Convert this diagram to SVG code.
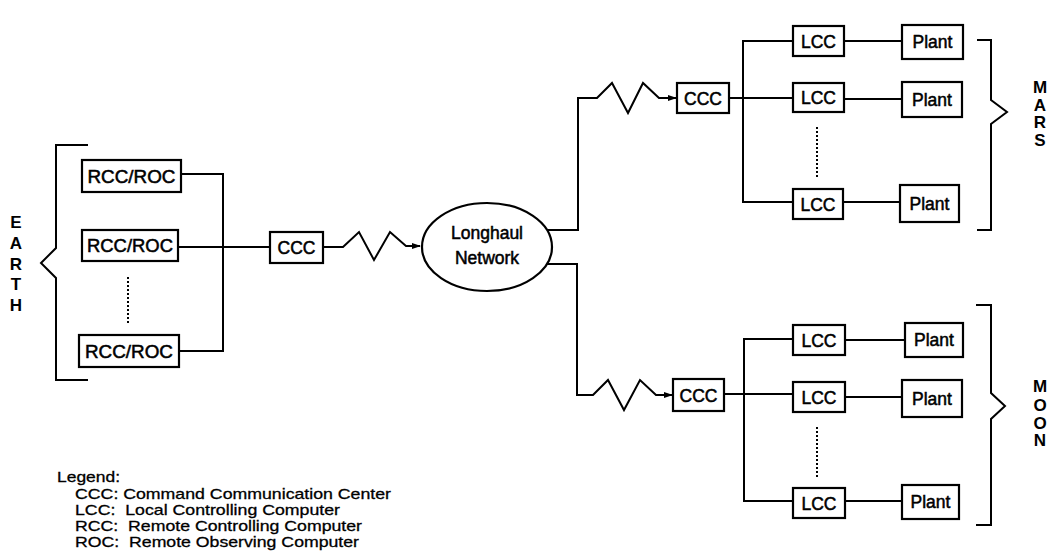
<svg xmlns="http://www.w3.org/2000/svg" width="1057" height="558" viewBox="0 0 1057 558">
<style>
.box{fill:#fff;stroke:#000;stroke-width:2.2}
.ln{fill:none;stroke:#000;stroke-width:2}
.dot{fill:none;stroke:#000;stroke-width:2;stroke-dasharray:2 2}
.lb{font-family:"Liberation Sans",Arial,sans-serif;font-size:17.5px;text-anchor:middle;fill:#000;stroke:#000;stroke-width:0.5}
.pl{font-family:"Liberation Sans",Arial,sans-serif;font-size:17px;font-weight:bold;text-anchor:middle;fill:#000}
.lg{font-family:"Liberation Sans",Arial,sans-serif;font-size:15px;fill:#000;stroke:#000;stroke-width:0.3;white-space:pre}
</style>
<defs>
<marker id="ah" markerWidth="9" markerHeight="7" refX="8" refY="3.5" orient="auto" markerUnits="userSpaceOnUse">
<path d="M0,0.5 L9,3.5 L0,6.5 Z" fill="#000"/>
</marker>
</defs>
<g id="connectors">
<path class="ln" d="M88,145 H56 V248 L41,263 L56,278 V380 H88"/>
<path class="ln" d="M181,174 H223 V351 H179"/>
<path class="ln" d="M178,247 H270"/>
<path class="dot" d="M128,277 V323"/>
<path class="ln" d="M323,247 H343 L359,232 L374,260 L390,232 L406,246 H420" marker-end="url(#ah)"/>
<path class="ln" d="M547,230 H578 V98 H597 L612,83 L628,113 L643,83 L659,98 H676" marker-end="url(#ah)"/>
<path class="ln" d="M547,264 H577 V395 H593 L608,380 L624,410 L640,380 L656,395 H672" marker-end="url(#ah)"/>
<path class="ln" d="M729,98 H793"/>
<path class="ln" d="M793,41 H743 V202 H793"/>
<path class="dot" d="M817,127 V177"/>
<path class="ln" d="M844,41 H902 M844,99 H902 M843,202 H900"/>
<path class="ln" d="M977,40 H991 V100 L1007,112 L991,124 V230 H977"/>
<path class="ln" d="M724,394 H793"/>
<path class="ln" d="M793,339 H744 V501 H793"/>
<path class="dot" d="M817,427 V477"/>
<path class="ln" d="M845,340 H905 M845,397 H902 M845,501 H902"/>
<path class="ln" d="M976,305 H991 V393 L1005,406 L991,419 V525 H976"/>
</g>
<g id="rcc1"><rect class="box" x="82" y="160" width="99" height="32"/><text class="lb" x="131.5" y="182.5" textLength="88" lengthAdjust="spacingAndGlyphs">RCC/ROC</text></g>
<g id="rcc2"><rect class="box" x="82" y="230" width="96" height="31"/><text class="lb" x="130" y="252" textLength="86" lengthAdjust="spacingAndGlyphs">RCC/ROC</text></g>
<g id="rcc3"><rect class="box" x="79" y="335" width="100" height="32"/><text class="lb" x="129" y="357.5" textLength="88" lengthAdjust="spacingAndGlyphs">RCC/ROC</text></g>
<g id="ccc-earth"><rect class="box" x="270" y="232" width="53" height="31"/><text class="lb" x="296.5" y="254">CCC</text></g>
<g id="longhaul"><ellipse class="box" cx="487" cy="247" rx="65" ry="44"/><text class="lb" x="487" y="239">Longhaul</text><text class="lb" x="487" y="264">Network</text></g>
<g id="ccc-mars"><rect class="box" x="677" y="83" width="52" height="30"/><text class="lb" x="703" y="104.5">CCC</text></g>
<g id="lcc-mars1"><rect class="box" x="793" y="26" width="51" height="30"/><text class="lb" x="818.5" y="47.5">LCC</text></g>
<g id="lcc-mars2"><rect class="box" x="793" y="83" width="51" height="29"/><text class="lb" x="818.5" y="104">LCC</text></g>
<g id="lcc-mars3"><rect class="box" x="793" y="189" width="50" height="30"/><text class="lb" x="818" y="210.5">LCC</text></g>
<g id="plant-mars1"><rect class="box" x="902" y="25" width="61" height="34"/><text class="lb" x="932.5" y="48">Plant</text></g>
<g id="plant-mars2"><rect class="box" x="902" y="82" width="60" height="35"/><text class="lb" x="932" y="106">Plant</text></g>
<g id="plant-mars3"><rect class="box" x="900" y="185" width="59" height="37"/><text class="lb" x="929.5" y="210">Plant</text></g>
<g id="ccc-moon"><rect class="box" x="673" y="379" width="51" height="32"/><text class="lb" x="698.5" y="401.5">CCC</text></g>
<g id="lcc-moon1"><rect class="box" x="793" y="325" width="52" height="30"/><text class="lb" x="819" y="346.5">LCC</text></g>
<g id="lcc-moon2"><rect class="box" x="793" y="382" width="52" height="30"/><text class="lb" x="819" y="403.5">LCC</text></g>
<g id="lcc-moon3"><rect class="box" x="793" y="488" width="52" height="30"/><text class="lb" x="819" y="509.5">LCC</text></g>
<g id="plant-moon1"><rect class="box" x="905" y="323" width="58" height="34"/><text class="lb" x="934" y="346">Plant</text></g>
<g id="plant-moon2"><rect class="box" x="902" y="380" width="60" height="37"/><text class="lb" x="932" y="404.5">Plant</text></g>
<g id="plant-moon3"><rect class="box" x="902" y="485" width="57" height="34"/><text class="lb" x="930.5" y="508">Plant</text></g>
<g id="earth-label"><text class="pl" x="16" y="228">E</text><text class="pl" x="16" y="249">A</text><text class="pl" x="16" y="270">R</text><text class="pl" x="16" y="290">T</text><text class="pl" x="16" y="311">H</text></g>
<g id="mars-label"><text class="pl" x="1040" y="93">M</text><text class="pl" x="1040" y="111">A</text><text class="pl" x="1040" y="128">R</text><text class="pl" x="1040" y="146">S</text></g>
<g id="moon-label"><text class="pl" x="1040" y="392">M</text><text class="pl" x="1040" y="411">O</text><text class="pl" x="1040" y="429">O</text><text class="pl" x="1040" y="446">N</text></g>
<g id="legend">
<text class="lg" x="57" y="482" textLength="63" lengthAdjust="spacingAndGlyphs">Legend:</text>
<text class="lg" x="75" y="499" textLength="316" lengthAdjust="spacingAndGlyphs">CCC: Command Communication Center</text>
<text class="lg" x="75" y="515" textLength="265" lengthAdjust="spacingAndGlyphs">LCC:  Local Controlling Computer</text>
<text class="lg" x="75" y="531" textLength="287" lengthAdjust="spacingAndGlyphs">RCC:  Remote Controlling Computer</text>
<text class="lg" x="75" y="547" textLength="284" lengthAdjust="spacingAndGlyphs">ROC:  Remote Observing Computer</text>
</g>
</svg>
